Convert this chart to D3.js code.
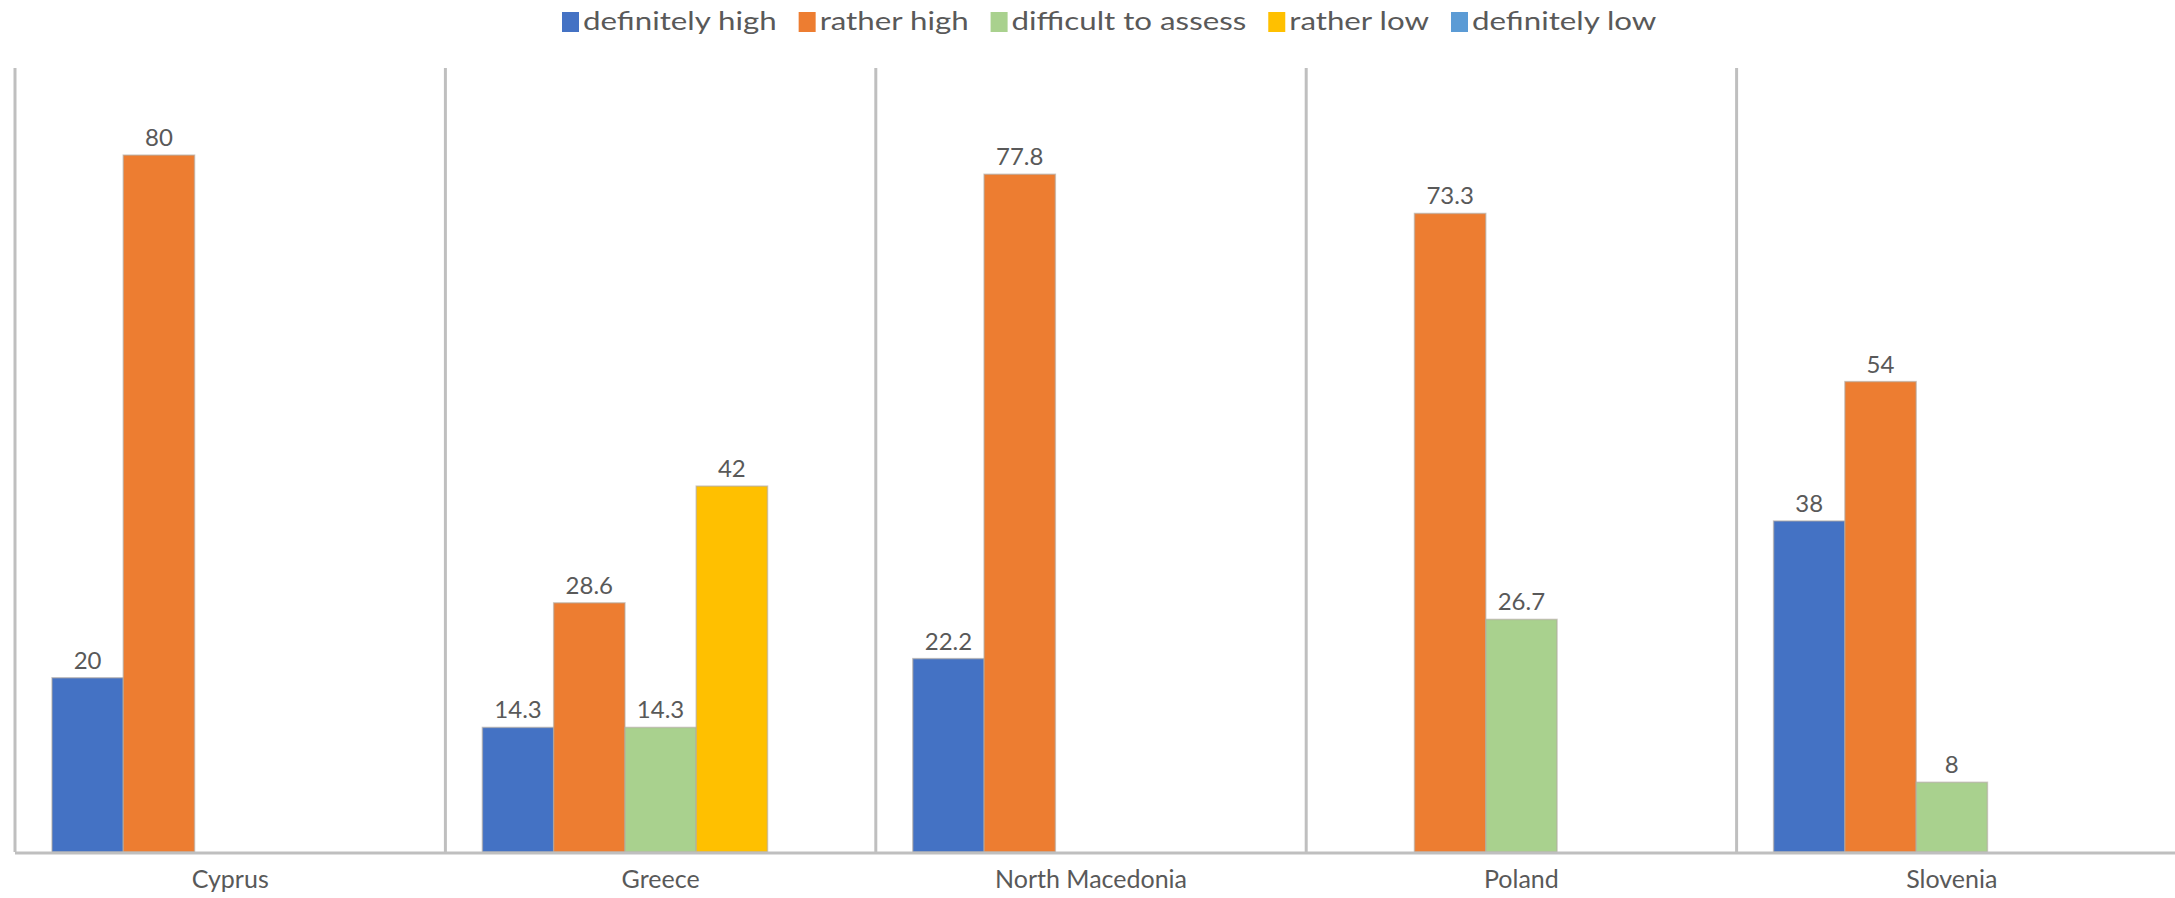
<!DOCTYPE html>
<html>
<head>
<meta charset="utf-8">
<script src="https://cdn.jsdelivr.net/npm/d3@7"></script>
<style>
  html, body { margin: 0; padding: 0; background: #fff; }
  svg { display: block; }
  text { font-family: Lato, "Open Sans", sans-serif; }
</style>
</head>
<body>
<svg id="chart" width="2175" height="898"></svg>
<script>
const categories = ["Cyprus", "Greece", "North Macedonia", "Poland", "Slovenia"];
const seriesNames = ["definitely high", "rather high", "difficult to assess", "rather low", "definitely low"];
const definitelyHigh = [20, 14.3, 22.2, null, 38];
const ratherHigh = [80, 28.6, 77.8, 73.3, 54];
const difficultToAssess = [null, 14.3, null, 26.7, 8];
const ratherLow = [null, 42, null, null, null];
const definitelyLow = [null, null, null, null, null];
const seriesColors = ["#4472C4", "#ED7D31", "#A9D18E", "#FFC000", "#5B9BD5"];

const seriesValues = [definitelyHigh, ratherHigh, difficultToAssess, ratherLow, definitelyLow];

const W = 2175, H = 898;
const margin = { left: 15, right: 8, top: 68, bottom: 46 };
const svg = d3.select("#chart");

const x0 = d3.scaleBand().domain(categories).range([margin.left, W - margin.right]).padding(0);
const innerPad = 37;
const x1 = d3.scaleBand().domain(seriesNames).range([innerPad, x0.bandwidth() - innerPad]).padding(0);
const y = d3.scaleLinear().domain([0, 90]).range([H - margin.bottom, margin.top]);

// vertical separators
svg.append("g").selectAll("line")
  .data(categories)
  .join("line")
  .attr("x1", d => x0(d)).attr("x2", d => x0(d))
  .attr("y1", y(90)).attr("y2", y(0))
  .attr("stroke", "#bfbfbf").attr("stroke-width", 3);

// bars
const groups = svg.append("g").selectAll("g")
  .data(categories)
  .join("g")
  .attr("transform", d => `translate(${x0(d)},0)`);

const barData = (c, ci) => seriesNames.map((s, si) => ({ s, si, v: seriesValues[si][ci] })).filter(d => d.v != null);

groups.each(function(c, ci) {
  const g = d3.select(this);
  const data = barData(c, ci);
  g.selectAll("rect")
    .data(data)
    .join("rect")
    .attr("x", d => x1(d.s))
    .attr("width", x1.bandwidth())
    .attr("y", d => y(d.v))
    .attr("height", d => y(0) - y(d.v))
    .attr("fill", d => seriesColors[d.si])
    .attr("stroke", "#b0a8a0")
    .attr("stroke-opacity", 0.6)
    .attr("stroke-width", 1.5);
  g.selectAll("text")
    .data(data)
    .join("text")
    .attr("x", d => x1(d.s) + x1.bandwidth() / 2)
    .attr("y", d => y(d.v) - 9)
    .attr("text-anchor", "middle")
    .attr("fill", "#595959")
    .attr("font-size", 24)
    .text(d => d.v);
});

// baseline
svg.append("line")
  .attr("x1", margin.left).attr("x2", W)
  .attr("y1", y(0) + 1).attr("y2", y(0) + 1)
  .attr("stroke", "#bfbfbf").attr("stroke-width", 3);

// x axis labels
const xAxis = d3.axisBottom(x0).tickSize(0).tickPadding(18);
const ax = svg.append("g").attr("transform", `translate(0,${y(0)})`).call(xAxis);
ax.select(".domain").remove();
ax.selectAll("text").attr("font-size", 25).attr("fill", "#595959").attr("font-family", "Lato, 'Open Sans', sans-serif");

// legend
const legend = svg.append("g");
let lx = 562;
seriesNames.forEach((s, i) => {
  const item = legend.append("g");
  item.append("rect").attr("x", lx).attr("y", 12).attr("width", 17).attr("height", 20).attr("fill", seriesColors[i]);
  const t = item.append("text").attr("x", lx + 21).attr("y", 30).attr("font-size", 25).attr("fill", "#595959").text(s);
  const w = t.node().getComputedTextLength() * 1.25;
  t.attr("textLength", w).attr("lengthAdjust", "spacingAndGlyphs");
  lx += 21 + w + 22;
});
</script>
</body>
</html>
